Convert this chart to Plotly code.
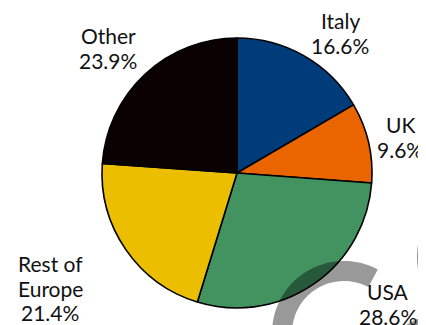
import numpy as np
import plotly.graph_objects as go

# Data
labels = ["Italy", "UK", "USA", "Rest of Europe", "Other"]
values = [16.6, 9.6, 28.6, 21.4, 23.9]
colors = ["#003B7A", "#EA6500", "#42935F", "#EBBE00", "#0A0002"]

W, H = 426, 325
OFF = 8  # page body margin


def px(x, y):
    # screen pixel -> paper coords
    return (x - OFF) / W, 1 - (y - OFF) / H


# pie placement (pixels): centre (237,173), radius 135
cx, cy, R = 237, 173, 135
x0, y1 = px(cx - R, cy - R)
x1, y0 = px(cx + R, cy + R)

fig = go.Figure(go.Pie(
    labels=labels, values=values, sort=False, direction="clockwise", rotation=0,
    marker=dict(colors=colors, line=dict(color="black", width=1.6)),
    textinfo="none", hoverinfo="label+value", showlegend=False,
    domain=dict(x=[x0, x1], y=[y0, y1]),
))

# label block centres (pixels), one line every 24px
label_pos = [(340, 33), (400, 137), (388, 304), (50, 288), (108, 48)]
LINE = 24.5
annotations = []
for lab, v, (lx, ly) in zip(labels, values, label_pos):
    lines = lab.replace("Rest of ", "Rest of\n").split("\n") + [f"{v:.1f}%"]
    n = len(lines)
    for i, t in enumerate(lines):
        ax_, ay_ = px(lx, ly + (i - (n - 1) / 2) * LINE)
        annotations.append(dict(
            x=ax_, y=ay_, xref="paper", yref="paper", showarrow=False, text=t,
            xanchor="center", yanchor="middle", align="center",
            font=dict(family="Lato", size=21, color="#111111"),
        ))


def ring(cxp, cyp, r_in, r_out, a0, a1, n=80):
    t = np.radians(np.linspace(a0, a1, n))
    outer = [px(cxp + r_out * np.sin(a), cyp - r_out * np.cos(a)) for a in t]
    inner = [px(cxp + r_in * np.sin(a), cyp - r_in * np.cos(a)) for a in t[::-1]]
    pts = outer + inner
    return "M " + " L ".join(f"{p[0]:.4f},{p[1]:.4f}" for p in pts) + " Z"


# decorative grey rings (watermark)
shapes = []
for args in [(344, 333, 52, 72, 190, 388), (496, 257, 58, 79, 180, 360), (450, 392, 58, 80, 270, 380)]:
    shapes.append(dict(type="path", path=ring(*args), xref="paper", yref="paper",
                       fillcolor="rgba(0,0,0,0.4)", line=dict(width=0), layer="above"))

fig.update_layout(
    width=W, height=H, margin=dict(l=0, r=0, t=0, b=0, pad=0),
    paper_bgcolor="white", plot_bgcolor="white",
    annotations=annotations, shapes=shapes,
)

fig.write_html("out.html")
